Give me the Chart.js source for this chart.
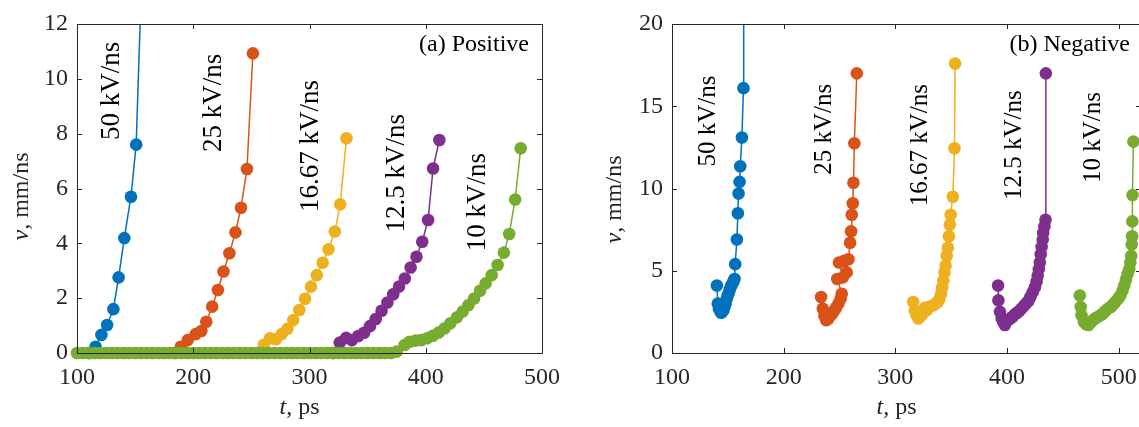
<!DOCTYPE html>
<html lang="en">
<head>
<meta charset="UTF-8">
<title>Streamer velocity v(t) — positive and negative</title>
<script src="https://cdn.jsdelivr.net/npm/chart.js"></script>
<style>
  html, body { margin: 0; padding: 0; background: #fff; overflow: hidden; }
  #wrap { position: relative; width: 1139px; height: 427px; overflow: hidden; background: #fff; }
  #posChart { position: absolute; left: 0; top: 0; }
  #negChart { position: absolute; left: 580px; top: 0; }
</style>
</head>
<body>
<div id="wrap">
  <canvas id="posChart" width="570" height="427"></canvas>
  <canvas id="negChart" width="580" height="427"></canvas>
</div>
<script>
// series names (voltage rise rate) and MATLAB default colours
const rateLabels = ['50 kV/ns', '25 kV/ns', '16.67 kV/ns', '12.5 kV/ns', '10 kV/ns'];
const colors = ['#0072BD', '#D95319', '#EDB120', '#7E2F8E', '#77AC30'];

// ---- (a) Positive: t in ps, v in mm/ns ----
const posT50 = [111, 116, 121, 125.9, 131.3, 135.8, 140.7, 146.4, 150.9, 156];
const posV50 = [0, 0.23, 0.66, 1.02, 1.6, 2.76, 4.19, 5.7, 7.6, 14.2];
const posT25 = [184, 189.3, 195.3, 202.1, 206.9, 211.2, 216.3, 221.2, 226.0, 231.1, 236.3, 241.1, 246.2, 251.3];
const posV25 = [0, 0.23, 0.47, 0.69, 0.80, 1.14, 1.69, 2.30, 2.97, 3.64, 4.40, 5.30, 6.71, 10.93];
const posT16 = [256, 260.7, 266, 271, 276, 281, 286, 291.2, 296.2, 301.3, 306.3, 311.3, 316.3, 321.8, 326.4, 331.8];
const posV16 = [0, 0.3, 0.54, 0.5, 0.69, 0.88, 1.2, 1.57, 1.98, 2.42, 2.84, 3.29, 3.78, 4.43, 5.42, 7.83];
const posT12 = [320, 326, 331.5, 336.5, 342, 347, 352, 357, 362, 367, 372, 377, 382, 387, 392, 397, 402, 406.3, 411.7];
const posV12 = [0, 0.38, 0.55, 0.47, 0.62, 0.74, 0.98, 1.24, 1.54, 1.84, 2.14, 2.42, 2.72, 3.12, 3.51, 4.06, 4.85, 6.73, 7.77];
const posT10 = [100, 105, 110, 115, 120, 125, 130, 135, 140, 145, 150, 155, 160, 165, 170, 175, 180, 185, 190, 195,
                200, 205, 210, 215, 220, 225, 230, 235, 240, 245, 250, 255, 260, 265, 270, 275, 280, 285, 290, 295,
                300, 305, 310, 315, 320, 325, 330, 335, 340, 345, 350, 355, 360, 365, 370, 375,
                381.8, 386.1, 391.2, 396.1, 401.2, 406.1, 411.2, 416.3, 421.1, 426.8, 431.7, 436.8, 441.6, 446.7,
                451.5, 456.7, 461.8, 467.2, 471.8, 476.9, 481.7];
const posV10 = [0, 0, 0, 0, 0, 0, 0, 0, 0, 0, 0, 0, 0, 0, 0, 0, 0, 0, 0, 0,
                0, 0, 0, 0, 0, 0, 0, 0, 0, 0, 0, 0, 0, 0, 0, 0, 0, 0, 0, 0,
                0, 0, 0, 0, 0, 0, 0, 0, 0, 0, 0, 0, 0, 0, 0, 0.05,
                0.29, 0.41, 0.45, 0.47, 0.54, 0.63, 0.75, 0.90, 1.08, 1.30, 1.51, 1.75, 1.99, 2.27,
                2.54, 2.84, 3.21, 3.66, 4.34, 5.6, 7.47];
const posXTicks = [100, 200, 300, 400, 500];
const posYTicks = [0, 2, 4, 6, 8, 10, 12];
const posLabelT = [129.9, 217.7, 301.4, 375.5, 444.7];
const posLabelV = [9.56, 9.12, 7.55, 6.56, 5.5];

// ---- (b) Negative ----
const negT50 = [140.2, 141, 142, 143, 144, 145, 146, 147, 148, 149, 150, 151, 152, 153, 154, 155, 156,
                156.6, 158.1, 159, 159.6, 160.5, 161.1, 162.6, 164.0, 164.2];
const negV50 = [4.1, 3.0, 2.7, 2.55, 2.45, 2.5, 2.6, 2.8, 3.0, 3.3, 3.5, 3.7, 3.9, 4.1, 4.2, 4.35, 4.5,
                5.4, 6.9, 8.5, 9.7, 10.4, 11.35, 13.1, 16.1, 24];
const negT25 = [233.5, 235, 236.5, 238, 239.5, 241, 243, 245, 247, 249, 251, 252, 248, 253, 249.5, 254,
                256.5, 258, 259.5, 260.4, 261, 261.9, 262.5, 263.3, 265.5];
const negV25 = [3.4, 2.7, 2.25, 2.0, 2.05, 2.2, 2.35, 2.55, 2.75, 3.0, 3.3, 3.6, 4.5, 4.6, 5.5, 5.6,
                4.9, 5.7, 6.7, 7.4, 8.4, 9.1, 10.35, 12.75, 17.0];
const negT16 = [316, 317.5, 319, 320.6, 322, 323.6, 325, 326.6, 328, 330, 332, 334, 336, 338, 339.5, 341,
                342, 343, 344, 345, 346, 347, 348, 348.8, 349.5, 351.5, 353, 353.5];
const negV16 = [3.1, 2.55, 2.3, 2.1, 2.2, 2.3, 2.6, 2.75, 2.6, 2.8, 2.85, 2.9, 3.0, 3.1, 3.3, 3.6,
                4.0, 4.4, 4.9, 5.3, 5.9, 6.4, 7.1, 7.8, 8.4, 9.5, 12.45, 17.6];
const negT12 = [392, 392.3, 393.7, 395.2, 396.6, 398.1, 399.5, 401, 403, 405, 407, 409, 411, 413, 415, 417,
                419, 421, 423, 425, 426.5, 427.5, 428.5, 429.4, 430.2, 431, 432, 432.4, 433.5, 434.5, 434.8];
const negV12 = [4.1, 3.2, 2.5, 2.1, 1.9, 1.7, 1.95, 2.0, 2.1, 2.2, 2.35, 2.45, 2.55, 2.7, 2.85, 3.0,
                3.15, 3.4, 3.7, 4.0, 4.35, 4.7, 5.1, 5.5, 6.0, 6.45, 6.9, 7.3, 7.7, 8.1, 17.0];
const negT10 = [465.2, 466, 466.7, 468.8, 471, 473, 475, 477, 479, 481.5, 484, 486, 488, 490.5, 493, 495,
                497, 499.5, 501.5, 503.5, 505, 506.5, 508, 509.5, 510.5, 511.2, 511.7, 512, 512.2, 512.4, 513.2];
const negV10 = [3.5, 2.8, 2.3, 1.9, 1.75, 1.7, 1.85, 2.0, 2.1, 2.2, 2.3, 2.4, 2.55, 2.7, 2.8, 2.95,
                3.1, 3.3, 3.5, 3.8, 4.1, 4.45, 4.8, 5.1, 5.5, 5.9, 6.6, 7.1, 8.0, 9.6, 12.85];
const negXTicks = [100, 200, 300, 400, 500];
const negYTicks = [0, 5, 10, 15, 20];
const negLabelT = [132.5, 236.2, 322.1, 406.3, 477.8];
const negLabelV = [14.1, 13.6, 12.64, 12.64, 13.1];

const SERIF = "'Liberation Serif', 'Times New Roman', serif";
const INK = '#262626';
Chart.defaults.font.family = SERIF;

function toPoints(ts, vs) {
  return ts.map((t, i) => ({ x: t, y: vs[i] }));
}

function makeDatasets(series) {
  // green drawn on top, like later plot() calls in MATLAB
  return series.map((s, i) => ({
    label: rateLabels[i],
    data: toPoints(s[0], s[1]),
    showLine: true,
    borderColor: colors[i],
    backgroundColor: colors[i],
    borderWidth: 1.5,
    pointRadius: 6.3,
    pointBorderWidth: 0,
    pointBackgroundColor: colors[i],
    order: series.length - 1 - i,
    clip: { left: 8, top: 0, right: 8, bottom: 8 }
  }));
}

function drawMixed(ctx, parts, x, y, rotate) {
  ctx.save();
  ctx.translate(x, y);
  if (rotate) ctx.rotate(-Math.PI / 2);
  const widths = parts.map(p => { ctx.font = p.font; return ctx.measureText(p.text).width; });
  let cx = -widths.reduce((a, b) => a + b, 0) / 2;
  ctx.textAlign = 'left';
  ctx.textBaseline = 'middle';
  ctx.fillStyle = INK;
  parts.forEach((p, i) => { ctx.font = p.font; ctx.fillText(p.text, cx, 0); cx += widths[i]; });
  ctx.restore();
}

// box, inward ticks, rotated series labels, panel tag, axis titles
const decor = {
  id: 'decor',
  afterDraw(chart, args, o) {
    const { ctx, chartArea: a, scales: { x, y } } = chart;
    ctx.save();
    ctx.strokeStyle = INK;
    ctx.lineWidth = 1;
    ctx.beginPath();
    ctx.rect(Math.round(a.left) + 0.5, Math.round(a.top) + 0.5, Math.round(a.width), Math.round(a.height));
    x.ticks.forEach(t => {
      const px = Math.round(x.getPixelForValue(t.value)) + 0.5;
      ctx.moveTo(px, a.bottom); ctx.lineTo(px, a.bottom - 5);
      ctx.moveTo(px, a.top); ctx.lineTo(px, a.top + 5);
    });
    y.ticks.forEach(t => {
      const py = Math.round(y.getPixelForValue(t.value)) + 0.5;
      ctx.moveTo(a.left, py); ctx.lineTo(a.left + 5, py);
      ctx.moveTo(a.right, py); ctx.lineTo(a.right - 5, py);
    });
    ctx.stroke();

    // rotated series labels
    ctx.fillStyle = '#000';
    ctx.font = o.labelSize + 'px ' + SERIF;
    ctx.textAlign = 'center';
    ctx.textBaseline = 'middle';
    rateLabels.forEach((txt, i) => {
      ctx.save();
      ctx.translate(x.getPixelForValue(o.labelT[i]), y.getPixelForValue(o.labelV[i]));
      ctx.rotate(-Math.PI / 2);
      ctx.fillText(txt, 0, 0);
      ctx.restore();
    });

    // panel tag
    ctx.font = '24px ' + SERIF;
    ctx.textAlign = 'right';
    ctx.fillText(o.tag, a.right - o.tagRight, a.top + 21);
    ctx.restore();

    const it = 'italic 24px ' + SERIF, up = '24px ' + SERIF;
    drawMixed(ctx, [{ text: 't', font: it }, { text: ', ps', font: up }],
      (a.left + a.right) / 2 - 10, a.bottom + 55, false);
    drawMixed(ctx, [{ text: 'v', font: it }, { text: ', mm/ns', font: up }],
      a.left - o.yTitleGap, (a.top + a.bottom) / 2 + o.yTitleShift, true);
  }
};

function makeChart(id, series, xmax, ymax, xTicks, yTicks, yWidth, padRight, decorOpts) {
  return new Chart(document.getElementById(id), {
    type: 'scatter',
    data: { datasets: makeDatasets(series) },
    options: {
      responsive: false,
      animation: false,
      events: [],
      layout: { padding: { left: 0, top: 24, right: padRight, bottom: 0 } },
      plugins: { legend: { display: false }, tooltip: { enabled: false }, decor: decorOpts },
      scales: {
        x: {
          type: 'linear', min: 100, max: xmax,
          afterBuildTicks: s => { s.ticks = xTicks.map(v => ({ value: v })); },
          afterFit: s => { s.height = 74; },
          grid: { display: false, drawTicks: false },
          border: { display: false },
          ticks: { padding: 10, color: INK, font: { size: 24 } }
        },
        y: {
          type: 'linear', min: 0, max: ymax,
          afterBuildTicks: s => { s.ticks = yTicks.map(v => ({ value: v })); },
          afterFit: s => { s.width = yWidth; },
          grid: { display: false, drawTicks: false },
          border: { display: false },
          ticks: { padding: o => 9, color: INK, font: { size: 24 } }
        }
      }
    },
    plugins: [decor]
  });
}

makeChart('posChart',
  [[posT50, posV50], [posT25, posV25], [posT16, posV16], [posT12, posV12], [posT10, posV10]],
  500, 12, posXTicks, posYTicks, 77, 24,
  { labelT: posLabelT, labelV: posLabelV, labelSize: 27, tag: '(a) Positive', tagRight: 13, yTitleGap: 55, yTitleShift: 8 });

makeChart('negChart',
  [[negT50, negV50], [negT25, negV25], [negT16, negV16], [negT12, negV12], [negT10, negV10]],
  520, 20, negXTicks, negYTicks, 92, 19,
  { labelT: negLabelT, labelV: negLabelV, labelSize: 25, tag: '(b) Negative', tagRight: 11, yTitleGap: 57, yTitleShift: 11 });
</script>
</body>
</html>
